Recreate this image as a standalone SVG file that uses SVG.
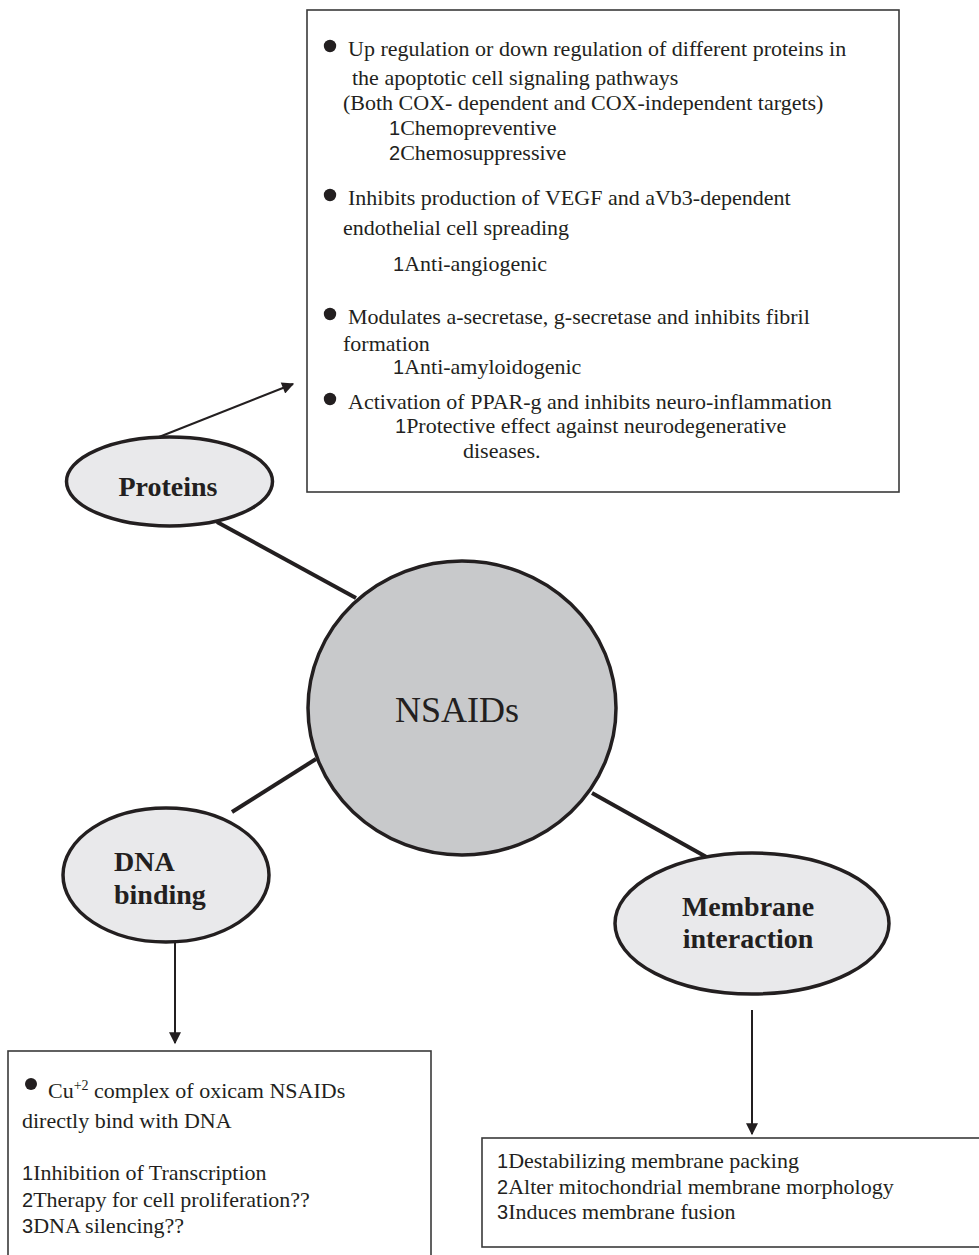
<svg xmlns="http://www.w3.org/2000/svg" width="979" height="1255" viewBox="0 0 979 1255">
<style>
.t{font-family:"Liberation Serif","Times New Roman",serif;font-size:22px;fill:#231f20}
.n{font-family:"Liberation Sans",Arial,sans-serif;font-size:20px}
.lbl{font-family:"Liberation Serif","Times New Roman",serif;font-size:28px;font-weight:bold;fill:#231f20}
.box{fill:#fff;stroke:#3a3a3a;stroke-width:1.6}
.node{fill:#e9e9eb;stroke:#231f20;stroke-width:3.5}
.conn{stroke:#231f20;stroke-width:4;fill:none}
.arr{stroke:#231f20;stroke-width:2;fill:none}
.dot{fill:#231f20}
</style>
<defs>
<marker id="ah" viewBox="0 0 10 10" refX="9" refY="5" markerWidth="7" markerHeight="6" markerUnits="strokeWidth" orient="auto">
<path d="M0,0 L10,5 L0,10 z" fill="#231f20"/>
</marker>
</defs>

<g id="connectors">
<line class="conn" x1="217" y1="522" x2="356" y2="598"/>
<line class="conn" x1="316" y1="759" x2="232" y2="812"/>
<line class="conn" x1="592" y1="793" x2="710" y2="859"/>
<line class="arr" x1="159" y1="437" x2="293" y2="384" marker-end="url(#ah)"/>
<line class="arr" x1="175" y1="942" x2="175" y2="1043" marker-end="url(#ah)"/>
<line class="arr" x1="752" y1="1010" x2="752" y2="1134" marker-end="url(#ah)"/>
</g>

<g id="proteins-box">
<rect class="box" x="307" y="10" width="592" height="482"/>
<circle class="dot" cx="330" cy="46" r="6.2"/>
<text class="t" x="348" y="56">Up regulation or down regulation of different proteins in</text>
<text class="t" x="352" y="85">the apoptotic cell signaling pathways</text>
<text class="t" x="343" y="110">(Both COX- dependent and COX-independent targets)</text>
<text class="t" x="389" y="135"><tspan class="n">1</tspan>Chemopreventive</text>
<text class="t" x="389" y="160"><tspan class="n">2</tspan>Chemosuppressive</text>
<circle class="dot" cx="330" cy="195" r="6.2"/>
<text class="t" x="348" y="205">Inhibits production of VEGF and aVb3-dependent</text>
<text class="t" x="343" y="235">endothelial cell spreading</text>
<text class="t" x="393" y="271"><tspan class="n">1</tspan>Anti-angiogenic</text>
<circle class="dot" cx="330" cy="314" r="6.2"/>
<text class="t" x="348" y="324">Modulates a-secretase, g-secretase and inhibits fibril</text>
<text class="t" x="343" y="351">formation</text>
<text class="t" x="393" y="374"><tspan class="n">1</tspan>Anti-amyloidogenic</text>
<circle class="dot" cx="330" cy="399" r="6.2"/>
<text class="t" x="348" y="409">Activation of PPAR-g and inhibits neuro-inflammation</text>
<text class="t" x="395" y="433"><tspan class="n">1</tspan>Protective effect against neurodegenerative</text>
<text class="t" x="463" y="458">diseases.</text>
</g>

<g id="proteins">
<ellipse class="node" cx="169.5" cy="481.5" rx="103" ry="44.5"/>
<text class="lbl" x="168" y="496" text-anchor="middle">Proteins</text>
</g>

<g id="nsaids">
<ellipse cx="462" cy="708" rx="154" ry="147" fill="#c8c9cb" stroke="#231f20" stroke-width="3.5"/>
<text x="457" y="722" text-anchor="middle" font-family="Liberation Serif, Times New Roman, serif" font-size="36" fill="#231f20">NSAIDs</text>
</g>

<g id="dna-binding">
<ellipse class="node" cx="166" cy="875" rx="103" ry="67"/>
<text class="lbl" x="114" y="871">DNA</text>
<text class="lbl" x="114" y="904">binding</text>
</g>

<g id="membrane-interaction">
<ellipse class="node" cx="752" cy="923.5" rx="137" ry="70.5"/>
<text class="lbl" x="748" y="916" text-anchor="middle">Membrane</text>
<text class="lbl" x="748" y="948" text-anchor="middle">interaction</text>
</g>

<g id="dna-box">
<rect class="box" x="8" y="1051" width="423" height="230"/>
<circle class="dot" cx="31" cy="1084" r="6"/>
<text class="t" x="48" y="1098">Cu<tspan font-size="14" dy="-8">+2</tspan><tspan dy="8"> complex of oxicam NSAIDs</tspan></text>
<text class="t" x="22" y="1128">directly bind with DNA</text>
<text class="t" x="22" y="1180"><tspan class="n">1</tspan>Inhibition of Transcription</text>
<text class="t" x="22" y="1207"><tspan class="n">2</tspan>Therapy for cell proliferation??</text>
<text class="t" x="22" y="1233"><tspan class="n">3</tspan>DNA silencing??</text>
</g>

<g id="membrane-box">
<rect class="box" x="482" y="1138" width="520" height="109"/>
<text class="t" x="497" y="1168"><tspan class="n">1</tspan>Destabilizing membrane packing</text>
<text class="t" x="497" y="1194"><tspan class="n">2</tspan>Alter mitochondrial membrane morphology</text>
<text class="t" x="497" y="1219"><tspan class="n">3</tspan>Induces membrane fusion</text>
</g>
</svg>
